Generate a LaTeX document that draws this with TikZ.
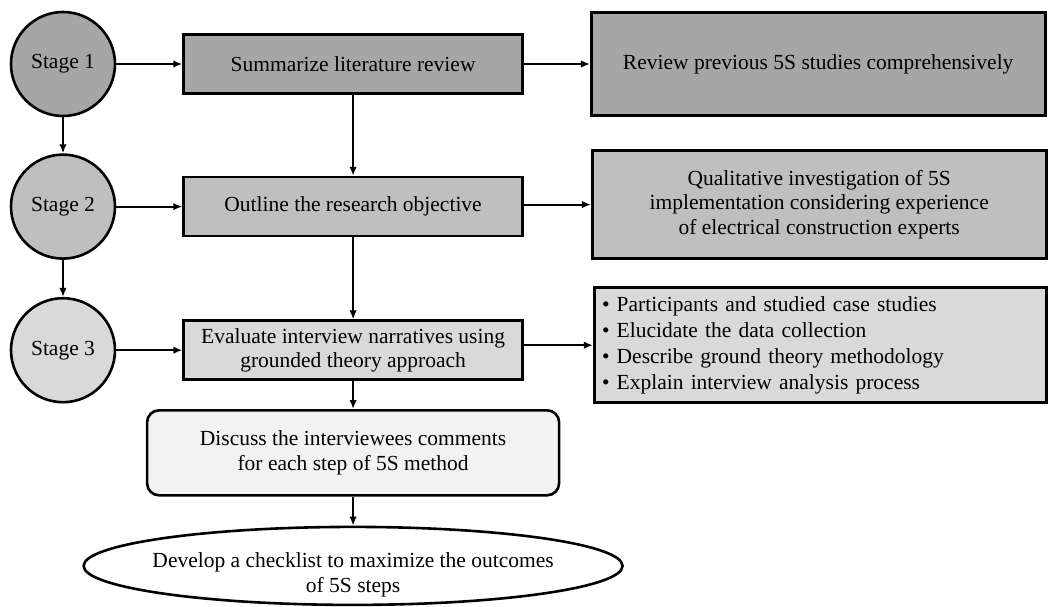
\documentclass[tikz,border=0pt]{standalone}
\usepackage{fontspec}
\setmainfont{Liberation Serif}
\usepackage{tikz}
\usetikzlibrary{arrows.meta,positioning,shapes.geometric}
\definecolor{StageDark}{HTML}{A6A6A6}
\definecolor{StageMid}{HTML}{BFBFBF}
\definecolor{StageLight}{HTML}{D9D9D9}
\definecolor{StagePale}{HTML}{F2F2F2}

\begin{document}
\begin{tikzpicture}[x=1pt,y=1pt,font=\fontsize{21.5}{24.5}\selectfont,stage/.style={draw,circle,line width=2.6pt,minimum size=104pt,inner sep=0pt},box/.style={draw,line width=2.6pt,align=center,minimum width=339pt,minimum height=59pt,inner sep=2pt},side/.style={draw,line width=2.6pt,align=center,minimum width=454pt},arrow/.style={-{Latex[length=9pt,width=7.5pt]},line width=2.2pt}]
  \useasboundingbox (0,0) rectangle (1049,-607);
  \node[stage,fill=StageDark] (s1) at (63,-64) {Stage 1};
  \node[stage,fill=StageMid,below=36pt of s1] (s2) {Stage 2};
  \node[stage,fill=StageLight,below=37pt of s2] (s3) {Stage 3};
  \node[box,fill=StageDark,right=66pt of s1] (sum) {Summarize literature review};
  \node[box,fill=StageMid,right=66pt of s2] (obj) {Outline the research objective};
  \node[box,fill=StageLight,right=66pt of s3] (eval) {Evaluate interview narratives using\\grounded theory approach};
  \node[side,fill=StageDark,minimum height=103pt,right=66pt of sum] (rev) {Review previous 5S studies comprehensively};
  \node[side,fill=StageMid,minimum height=108pt,right=67pt of obj,yshift=2pt] (qual) {Qualitative investigation of 5S\\implementation considering experience\\of electrical construction experts};
  \node[side,fill=StageLight,minimum height=115pt,minimum width=452pt,text width=436pt,align=left,inner xsep=8pt,font=\fontsize{21.5}{26}\selectfont,right=69pt of eval,yshift=5pt] (tasks) {\textbullet\hspace{7pt}Participants and studied case studies\\\textbullet\hspace{7pt}Elucidate the data collection\\\textbullet\hspace{7pt}Describe ground theory methodology\\\textbullet\hspace{7pt}Explain interview analysis process};
  \node[box,fill=StagePale,rounded corners=12pt,minimum width=412pt,minimum height=85pt,below=28pt of eval] (disc) {Discuss the interviewees comments\\for each step of 5S method};
  \node[draw,ellipse,line width=2.6pt,fill=white,minimum width=539pt,minimum height=78pt,inner sep=0pt,below=29pt of disc,label={[align=center,yshift=-9pt]center:Develop a checklist to maximize the outcomes\\of 5S steps}] (check) {};
  \draw[arrow] (s1)--(s2);
  \draw[arrow] (s2)--(s3);
  \draw[arrow] (s1)--(sum);
  \draw[arrow] (s2)--(obj);
  \draw[arrow] (s3)--(eval);
  \draw[arrow] (sum)--(rev);
  \draw[arrow] (obj.east |- qual.west)--(qual.west);
  \draw[arrow] (eval.east |- tasks.west)--(tasks.west);
  \draw[arrow] (sum)--(obj);
  \draw[arrow] (obj)--(eval);
  \draw[arrow] (eval)--(disc);
  \draw[arrow] (disc)--(check);
\end{tikzpicture}
\end{document}
